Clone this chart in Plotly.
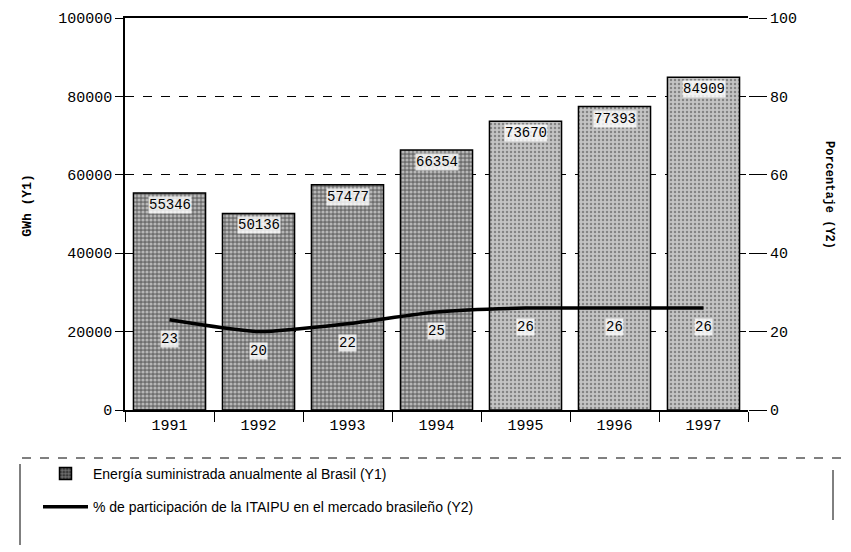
import plotly.graph_objects as go

years = ["1991", "1992", "1993", "1994", "1995", "1996", "1997"]
energia_gwh = [55346, 50136, 57477, 66354, 73670, 77393, 84909]
participacion_pct = [23, 20, 22, 25, 26, 26, 26]
y1_ticks = [0, 20000, 40000, 60000, 80000, 100000]
y2_ticks = [0, 20, 40, 60, 80, 100]

bar_bg = ["#6e6e6e", "#6e6e6e", "#6e6e6e", "#6e6e6e", "#c4c4c4", "#c4c4c4", "#c4c4c4"]
bar_sol = [0.5, 0.5, 0.5, 0.5, 0.3, 0.3, 0.3]

OFF = 8  # page body margin
PL, PR, PT, PB = 125, 748, 18, 410  # plot area in page pixels
W, H = 851 - OFF, 552 - OFF
L, T = PL - OFF, PT - OFF
pw, ph = PR - PL, PB - PT
R = W - L - pw
B = H - T - ph


def px(x):
    return (x - PL) / pw


def py(y):
    return (PB - y) / ph


mono = "Liberation Mono"
narrow = "Liberation Sans Narrow, Liberation Sans, Arial"

fig = go.Figure()
fig.add_trace(go.Bar(
    x=years, y=energia_gwh,
    name="Energía suministrada anualmente al Brasil (Y1)",
    legendgroup="a",
    marker=dict(
        color=bar_bg,
        line=dict(color="black", width=1.5),
        pattern=dict(shape=".", fgcolor="black", bgcolor=bar_bg,
                     size=4, solidity=bar_sol, fillmode="overlay"),
    ),
    yaxis="y",
))
fig.add_trace(go.Scatter(
    x=years, y=participacion_pct,
    name="% de participación de la ITAIPU en el mercado brasileño (Y2)",
    legendgroup="b",
    mode="lines",
    line=dict(color="black", width=3.5, shape="spline", smoothing=0.6),
    yaxis="y2",
))

annotations = []
for i, v in enumerate(energia_gwh):
    annotations.append(dict(
        x=i, y=v, xref="x", yref="y", yanchor="top", yshift=-3,
        text=str(v), showarrow=False, bgcolor="rgba(255,255,255,0.8)",
        font=dict(family=mono, size=14, color="black"), borderpad=0,
    ))
for i, p in enumerate(participacion_pct):
    annotations.append(dict(
        x=i, y=p, xref="x", yref="y2", yanchor="top", yshift=-10,
        text=str(p), showarrow=False, bgcolor="rgba(255,255,255,0.8)",
        font=dict(family=mono, size=14, color="black"), borderpad=0,
    ))
annotations.append(dict(
    x=px(18), y=0.52, xref="paper", yref="paper", text="<b>GWh (Y1)</b>",
    textangle=-90, showarrow=False, font=dict(family=mono, size=13, color="black"),
))
annotations.append(dict(
    x=px(838), y=py(195), xref="paper", yref="paper", text="<b>Porcentaje (Y2)</b>",
    textangle=90, showarrow=False, font=dict(family=mono, size=12, color="black"),
))

shapes = [
    dict(type="line", xref="paper", yref="paper", x0=px(22), x1=px(845),
         y0=py(458), y1=py(458), line=dict(color="black", width=1, dash="dash")),
    dict(type="line", xref="paper", yref="paper", x0=px(20), x1=px(20),
         y0=py(464), y1=py(545), line=dict(color="black", width=1)),
    dict(type="line", xref="paper", yref="paper", x0=px(833), x1=px(833),
         y0=py(470), y1=py(520), line=dict(color="black", width=1)),
]

fig.update_layout(
    width=W, height=H,
    margin=dict(l=L, r=R, t=T, b=B, autoexpand=False),
    paper_bgcolor="white", plot_bgcolor="white",
    bargap=0.19,
    showlegend=True,
    legend=dict(
        x=(38 - OFF) / W, y=1 - (458 - OFF) / H, xanchor="left", yanchor="top",
        xref="container", yref="container",
        font=dict(family=narrow, size=14, color="black"),
        tracegroupgap=12, traceorder="grouped",
        bgcolor="rgba(0,0,0,0)", itemwidth=45,
    ),
    xaxis=dict(
        type="category", range=[-0.5, len(years) - 0.5], automargin=False,
        showline=True, linecolor="black", linewidth=1.5,
        mirror=True, ticks="outside", tickson="boundaries", ticklen=10,
        tickcolor="black", showgrid=False,
        tickfont=dict(family=mono, size=15, color="black"),
    ),
    yaxis=dict(
        range=[0, 100000], tickvals=y1_ticks, tickformat="d", showline=True,
        automargin=False,
        linecolor="black", linewidth=1.5, ticks="outside", ticklen=8,
        tickcolor="black",
        showgrid=True, gridcolor="black", griddash="dash", gridwidth=1,
        zeroline=False,
        tickfont=dict(family=mono, size=15, color="black"),
    ),
    yaxis2=dict(
        range=[0, 100], tickvals=y2_ticks, overlaying="y", side="right",
        automargin=False,
        showline=False, ticks="outside", ticklen=18, tickcolor="black",
        showgrid=False, zeroline=False,
        tickfont=dict(family=mono, size=15, color="black"),
    ),
    annotations=annotations,
    shapes=shapes,
)

fig.write_html("out.html")
